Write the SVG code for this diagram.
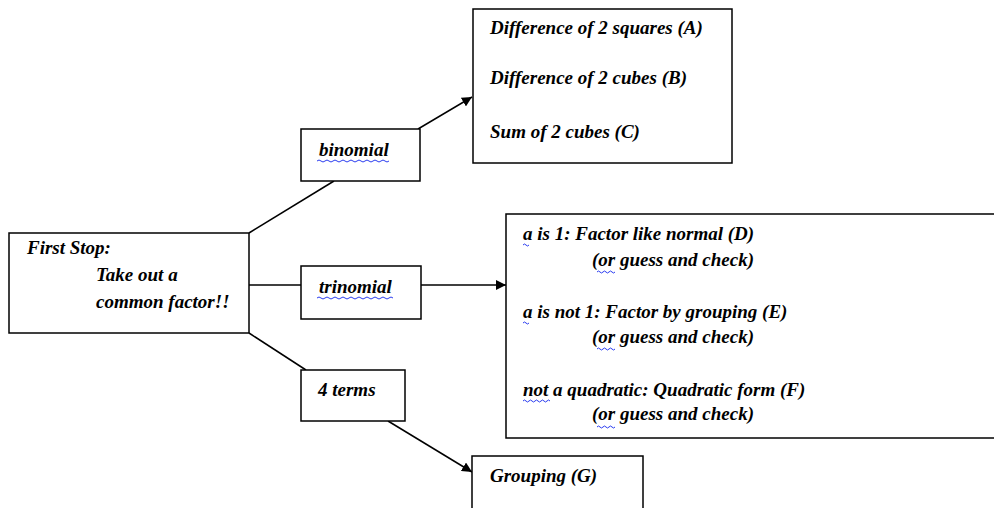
<svg xmlns="http://www.w3.org/2000/svg" width="994" height="508" viewBox="0 0 994 508">
<style>
.box{fill:#fff;stroke:#000;stroke-width:1.5}
.t{font-family:"Liberation Serif",serif;font-style:italic;font-weight:bold;font-size:19px;fill:#000}
.ln{stroke:#000;stroke-width:1.5;fill:none}
.sq{stroke:#2a3cf0;stroke-width:1;fill:none}
</style>
<defs>
<marker id="ah" viewBox="0 0 10 10" refX="10" refY="5" markerWidth="10" markerHeight="10" markerUnits="userSpaceOnUse" orient="auto">
<path d="M0,0 L10,5 L0,10 z" fill="#000"/>
</marker>
</defs>
<rect width="994" height="508" fill="#fff"/>
<g id="connectors">
<line class="ln" x1="249" y1="233" x2="334" y2="181"/>
<line class="ln" x1="418" y1="129" x2="472" y2="97" marker-end="url(#ah)"/>
<line class="ln" x1="249" y1="285" x2="301" y2="285"/>
<line class="ln" x1="420" y1="285" x2="506" y2="285" marker-end="url(#ah)"/>
<line class="ln" x1="249" y1="333" x2="306" y2="370"/>
<line class="ln" x1="388" y1="421" x2="472" y2="472" marker-end="url(#ah)"/>
</g>
<g id="first-stop">
<rect class="box" x="9" y="233" width="240" height="100"/>
<text class="t" x="27" y="254">First Stop:</text>
<text class="t" x="96" y="281">Take out a</text>
<text class="t" x="96" y="308">common factor!!</text>
</g>
<g id="binomial">
<rect class="box" x="301" y="129" width="119" height="52"/>
<text class="t" x="319" y="156">binomial</text>
<path class="sq" d="M317,161 q2,-2 4,0 t4,0 t4,0 t4,0 t4,0 t4,0 t4,0 t4,0 t4,0 t4,0 t4,0 t4,0 t4,0 t4,0 t4,0 t4,0 t4,0 t4,0"/>
</g>
<g id="trinomial">
<rect class="box" x="301" y="266" width="120" height="53"/>
<text class="t" x="319" y="293">trinomial</text>
<path class="sq" d="M317,298 q2,-2 4,0 t4,0 t4,0 t4,0 t4,0 t4,0 t4,0 t4,0 t4,0 t4,0 t4,0 t4,0 t4,0 t4,0 t4,0 t4,0 t4,0 t4,0 t4,0"/>
</g>
<g id="four-terms">
<rect class="box" x="301" y="370" width="104" height="51"/>
<text class="t" x="318" y="396">4 terms</text>
</g>
<g id="binomial-methods">
<rect class="box" x="473" y="9" width="259" height="154"/>
<text class="t" x="490" y="34">Difference of 2 squares (A)</text>
<text class="t" x="490" y="84">Difference of 2 cubes (B)</text>
<text class="t" x="490" y="138">Sum of 2 cubes (C)</text>
</g>
<g id="trinomial-methods">
<rect class="box" x="506" y="214" width="496" height="224"/>
<text class="t" x="523" y="240">a is 1: Factor like normal (D)</text>
<path class="sq" d="M523,245 q1.5,-2 3,0 t3,0"/>
<text class="t" x="592" y="266">(or guess and check)</text>
<path class="sq" d="M597,272 q1.5,-2 3,0 t3,0 t3,0 t3,0 t3,0 t3,0"/>
<text class="t" x="523" y="318">a is not 1: Factor by grouping (E)</text>
<path class="sq" d="M523,323 q1.5,-2 3,0 t3,0"/>
<text class="t" x="592" y="343">(or guess and check)</text>
<path class="sq" d="M597,349 q1.5,-2 3,0 t3,0 t3,0 t3,0 t3,0 t3,0"/>
<text class="t" x="523" y="396">not a quadratic: Quadratic form (F)</text>
<path class="sq" d="M523,401 q1.5,-2 3,0 t3,0 t3,0 t3,0 t3,0 t3,0 t3,0 t3,0 t3,0"/>
<text class="t" x="592" y="420">(or guess and check)</text>
<path class="sq" d="M597,427 q1.5,-2 3,0 t3,0 t3,0 t3,0 t3,0 t3,0"/>
</g>
<g id="grouping">
<rect class="box" x="472" y="456" width="171" height="60"/>
<text class="t" x="490" y="482">Grouping (G)</text>
</g>
</svg>
